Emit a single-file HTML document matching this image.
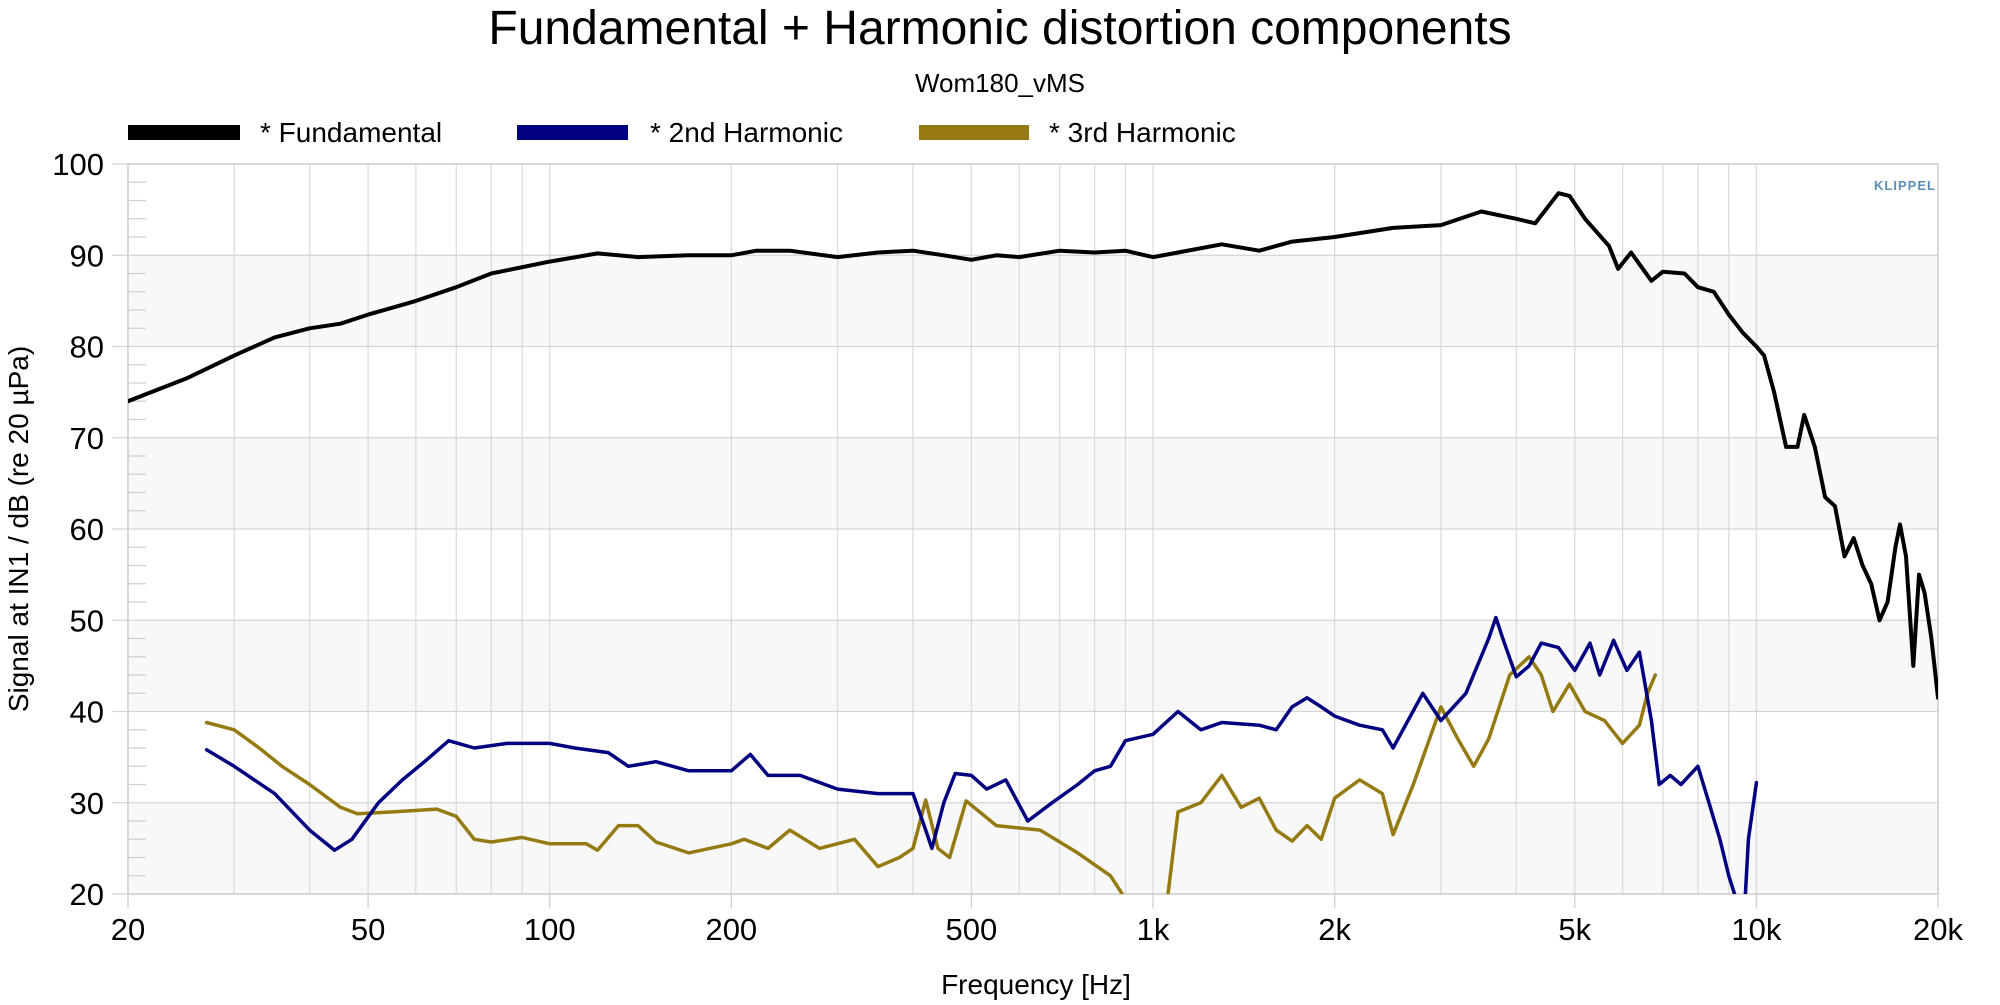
<!DOCTYPE html>
<html><head><meta charset="utf-8">
<style>
body{margin:0;background:#fff;width:2000px;height:1000px;overflow:hidden;font-family:"Liberation Sans",Arial,sans-serif;}
svg text{font-family:"Liberation Sans",Arial,sans-serif;}
</style></head>
<body>
<svg id="chart" width="2000" height="1000" viewBox="0 0 2000 1000" xmlns="http://www.w3.org/2000/svg">
<defs><clipPath id="plotclip"><rect x="128" y="164" width="1810" height="730"/></clipPath></defs>
<text x="1000" y="44" font-size="48" text-anchor="middle" fill="#000">Fundamental + Harmonic distortion components</text>
<text x="1000" y="92" font-size="26" text-anchor="middle" fill="#000">Wom180_vMS</text>
<g>
<g><rect x="128" y="125" width="112" height="15" fill="#000"/><text x="260" y="142" font-size="28">* Fundamental</text></g>
<g><rect x="517" y="125" width="111" height="15" fill="#000080"/><text x="650" y="142" font-size="28">* 2nd Harmonic</text></g>
<g><rect x="919" y="125" width="110" height="15" fill="#957A12"/><text x="1049" y="142" font-size="28">* 3rd Harmonic</text></g>
</g>
<g id="bands"></g>
<g id="grid"></g>
<g id="axes"></g>
<g id="series" clip-path="url(#plotclip)"></g>
<text x="1905" y="190" font-size="13" font-weight="bold" fill="#5b8fb5" text-anchor="middle" letter-spacing="1">KLIPPEL</text>
<text transform="translate(28,529) rotate(-90)" font-size="28" text-anchor="middle">Signal at IN1 / dB (re 20 µPa)</text>
<text x="1036" y="994" font-size="28" text-anchor="middle">Frequency [Hz]</text>
</svg>
<script>
const fundFreq=[20,25,30,35,40,45,50,60,70,80,100,120,140,170,200,220,250,300,350,400,450,500,550,600,700,800,900,1000,1100,1300,1500,1700,2000,2500,3000,3500,4000,4300,4700,4900,5200,5700,5900,6200,6700,7000,7600,8000,8500,9000,9500,10000,10300,10700,11200,11700,12000,12500,13000,13500,14000,14500,15000,15500,16000,16500,17000,17300,17700,18200,18600,19000,19500,20000];
const fundDb=[74,76.5,79,81,82,82.5,83.5,85,86.5,88,89.3,90.2,89.8,90,90,90.5,90.5,89.8,90.3,90.5,90,89.5,90,89.8,90.5,90.3,90.5,89.8,90.3,91.2,90.5,91.5,92,93,93.3,94.8,94,93.5,96.8,96.5,94,91,88.5,90.3,87.2,88.2,88,86.5,86,83.5,81.5,80,79,75,69,69,72.5,69,63.5,62.5,57,59,56,54,50,52,58,60.5,57,45,55,53,48,41.5];
const h2Freq=[27,30,35,40,44,47,52,57,62,68,75,85,100,110,125,135,150,170,200,215,230,260,300,350,400,420,430,450,470,500,530,570,620,680,750,800,850,900,1000,1100,1200,1300,1500,1600,1700,1800,1900,2000,2200,2400,2500,2800,3000,3300,3600,3700,3800,4000,4200,4400,4700,5000,5300,5500,5800,6100,6400,6700,6900,7200,7500,8000,8300,8700,9000,9300,9500,9700,10000];
const h2Db=[35.8,34,31,27,24.8,26,30,32.5,34.5,36.8,36,36.5,36.5,36,35.5,34,34.5,33.5,33.5,35.3,33,33,31.5,31,31,27,25,30,33.2,33,31.5,32.5,28,30,32,33.5,34,36.8,37.5,40,38,38.8,38.5,38,40.5,41.5,40.5,39.5,38.5,38,36,42,39,42,48,50.3,48,43.8,45,47.5,47,44.5,47.5,44,47.8,44.5,46.5,39,32,33,32,34,30.5,26,22,19,15,26,32.2];
const h3Freq=[27,30,33,36,40,45,48,55,65,70,75,80,90,100,115,120,130,140,150,170,200,210,230,250,280,320,350,380,400,420,440,460,490,550,650,750,850,930,1000,1050,1100,1200,1300,1400,1500,1600,1700,1800,1900,2000,2200,2400,2500,2700,3000,3200,3400,3600,3900,4200,4400,4600,4900,5200,5600,6000,6400,6600,6800];
const h3Db=[38.8,38,36,34,32,29.5,28.8,29,29.3,28.5,26,25.7,26.2,25.5,25.5,24.8,27.5,27.5,25.7,24.5,25.5,26,25,27,25,26,23,24,25,30.3,25,24,30.2,27.5,27,24.5,22,18,12,18,29,30,33,29.5,30.5,27,25.8,27.5,26,30.5,32.5,31,26.5,32,40.5,37,34,37,44,46,44,40,43,40,39,36.5,38.5,42,44];
const yTicks=[20,30,40,50,60,70,80,90,100];
const xTickVals=[20,50,100,200,500,1000,2000,5000,10000,20000];
const xTickLabels=["20","50","100","200","500","1k","2k","5k","10k","20k"];

const L=128,R=1938,T=164,B=894,YMIN=20,YMAX=100;
const xs=f=>L+(Math.log10(f/20)/3)*(R-L);
const ys=v=>B-(v-YMIN)/(YMAX-YMIN)*(B-T);
const NS="http://www.w3.org/2000/svg";
function mk(tag,attrs,parent){const e=document.createElementNS(NS,tag);for(const k in attrs)e.setAttribute(k,attrs[k]);parent.appendChild(e);return e;}
const bands=document.getElementById('bands'),grid=document.getElementById('grid'),axes=document.getElementById('axes'),series=document.getElementById('series');
for(let v=20;v<100;v+=20){
  const r=mk('rect',{x:L,y:ys(v+10),width:R-L,height:ys(v)-ys(v+10),fill:'#f8f8f8'},bands);
  
  
}
for(let d=10;d<=10000;d*=10){for(let m=1;m<=9;m++){const f=d*m;if(f<20||f>20000)continue;
  const g=mk('line',{x1:xs(f),x2:xs(f),y1:T,y2:B,stroke:'#dcdcdc','stroke-width':1.3},grid);
  
  }}
yTicks.forEach(v=>{
  const g=mk('line',{x1:112,x2:R,y1:ys(v),y2:ys(v),stroke:'#d4d4d4','stroke-width':1.3},grid);
  
  
  const t=mk('text',{x:104,y:ys(v)+11,'font-size':31,'text-anchor':'end'},axes);t.textContent=v;
  
  
});
for(let v=22;v<100;v+=2){if(v%10===0)continue;
  const m=mk('line',{x1:L,x2:L+18,y1:ys(v),y2:ys(v),stroke:'#d0d0d0','stroke-width':1.3},axes);
  
  }
const frame=mk('rect',{x:L,y:T,width:R-L,height:B-T,fill:'none',stroke:'#d0d0d0','stroke-width':1.5},axes);


xTickVals.forEach((f,i)=>{
  const tk=mk('line',{x1:xs(f),x2:xs(f),y1:B,y2:B+14,stroke:'#d0d0d0','stroke-width':1.3},axes);
  
  
  const t=mk('text',{x:xs(f),y:940,'font-size':31,'text-anchor':'middle'},axes);t.textContent=xTickLabels[i];
  
  
});
function line(fr,db,color,w,name){
  const d=fr.map((f,i)=>(i?'L':'M')+xs(f).toFixed(1)+','+ys(db[i]).toFixed(1)).join(' ');
  const p=mk('path',{d:d,fill:'none',stroke:color,'stroke-width':w,'stroke-linejoin':'round','stroke-linecap':'round'},series);
  
  
}
line(h3Freq,h3Db,'#957A12',3.5,'third-harmonic-line');
line(h2Freq,h2Db,'#000080',3.5,'second-harmonic-line');
line(fundFreq,fundDb,'#000',4,'fundamental-line');
</script>
</body></html>
